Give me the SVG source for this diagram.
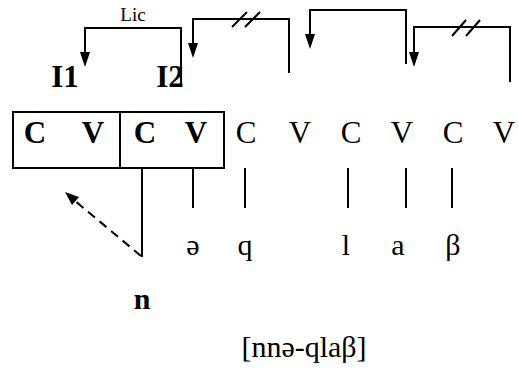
<svg xmlns="http://www.w3.org/2000/svg" width="518" height="373" viewBox="0 0 518 373">
<style>
text{font-family:'Liberation Serif','Times New Roman',Times,'DejaVu Serif',serif;fill:#000;text-anchor:middle}
.b{font-weight:bold}
.ln{stroke:#000;stroke-width:2;fill:none}
.dash{stroke:#000;stroke-width:2;fill:none;stroke-dasharray:9 6}
.hd{fill:#000}
</style>
<rect width="518" height="373" fill="#fff"/>
<g id="box">
<rect x="13" y="112" width="211" height="56" class="ln"/>
<line x1="120" y1="112" x2="120" y2="168" class="ln"/>
</g>
<g id="skeleton">
<text class="b" x="35" y="143" font-size="31">C</text>
<text class="b" x="93" y="143" font-size="31">V</text>
<text class="b" x="145" y="143" font-size="31">C</text>
<text class="b" x="196" y="143" font-size="31">V</text>
<text x="246" y="143" font-size="31">C</text>
<text x="300" y="143" font-size="31">V</text>
<text x="351" y="143" font-size="31">C</text>
<text x="402" y="143" font-size="31">V</text>
<text x="453" y="143" font-size="31">C</text>
<text x="504" y="143" font-size="31">V</text>
</g>
<g id="labels">
<text class="b" x="65" y="87" font-size="31">I1</text>
<text class="b" x="170" y="87" font-size="31">I2</text>
<text x="133" y="21" font-size="19">Lic</text>
</g>
<g id="segments">
<text x="193" y="255" font-size="30">ə</text>
<text x="245" y="255" font-size="30">q</text>
<text x="346" y="255" font-size="30">l</text>
<text x="398" y="255" font-size="30">a</text>
<text x="453" y="255" font-size="30">β</text>
<text class="b" x="142" y="309" font-size="30">n</text>
<text x="304" y="357" font-size="30">[nnə-qlaβ]</text>
</g>
<g id="connectors">
<line x1="142" y1="168" x2="142" y2="257" class="ln"/>
<line x1="193" y1="168" x2="193" y2="208" class="ln"/>
<line x1="245" y1="168" x2="245" y2="208" class="ln"/>
<line x1="348" y1="168" x2="348" y2="208" class="ln"/>
<line x1="406" y1="168" x2="406" y2="208" class="ln"/>
<line x1="452" y1="168" x2="452" y2="208" class="ln"/>
<line x1="141" y1="256" x2="74" y2="200" class="dash"/>
<path d="M65,192 L79,197 L72,205 z" class="hd"/>
<polyline points="181,85 181,28 85,28 85,53" class="ln"/>
<path d="M80,52 L90,52 L85,67 z" class="hd"/>
<polyline points="289,73 289,19 193,19 193,44" class="ln"/>
<path d="M188,43 L198,43 L193,58 z" class="hd"/>
<polyline points="406,64 406,10 310,10 310,35" class="ln"/>
<path d="M305,34 L315,34 L310,49 z" class="hd"/>
<polyline points="510,82 510,27 414,27 414,53" class="ln"/>
<path d="M409,52 L419,52 L414,67 z" class="hd"/>
<line x1="232" y1="27" x2="247" y2="12" class="ln"/>
<line x1="245" y1="27" x2="260" y2="12" class="ln"/>
<line x1="452" y1="36" x2="466" y2="20" class="ln"/>
<line x1="466" y1="36" x2="480" y2="20" class="ln"/>
</g>
</svg>
